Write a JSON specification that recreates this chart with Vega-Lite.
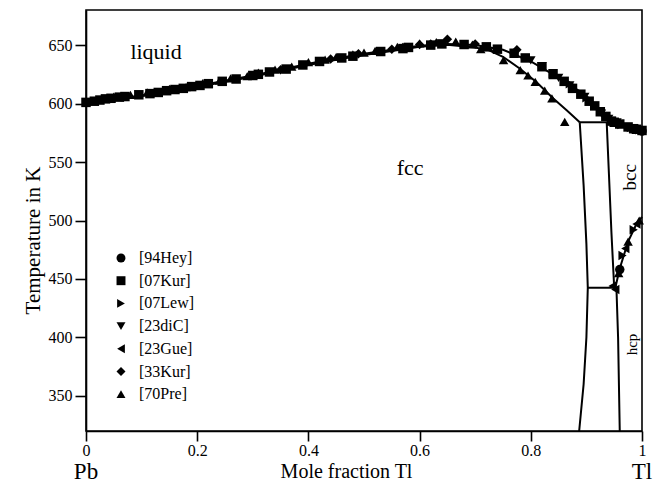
{
  "$schema": "https://vega.github.io/schema/vega-lite/v6.json",
  "width": 556,
  "height": 421,
  "autosize": {"type": "none"},
  "padding": {"left": 86, "top": 10, "right": 24, "bottom": 53},
  "background": "white",
  "config": {
    "font": "Liberation Serif",
    "view": {"stroke": "black", "strokeWidth": 1.6},
    "axis": {
      "grid": false,
      "domainColor": "black",
      "domainWidth": 1.6,
      "tickColor": "black",
      "tickWidth": 1.6,
      "labelColor": "black",
      "titleColor": "black",
      "labelFont": "Liberation Serif",
      "titleFont": "Liberation Serif",
      "labelFontSize": 16,
      "titleFontSize": 21,
      "titleFontWeight": "normal",
      "labelFlush": false
    }
  },
  "datasets": {
    "curves": [
      {"curve": "liquidus", "i": 0, "x": 0, "T": 600.6},
      {"curve": "liquidus", "i": 1, "x": 0.05, "T": 603.6},
      {"curve": "liquidus", "i": 2, "x": 0.1, "T": 607},
      {"curve": "liquidus", "i": 3, "x": 0.15, "T": 611},
      {"curve": "liquidus", "i": 4, "x": 0.2, "T": 615},
      {"curve": "liquidus", "i": 5, "x": 0.25, "T": 619.5},
      {"curve": "liquidus", "i": 6, "x": 0.3, "T": 624},
      {"curve": "liquidus", "i": 7, "x": 0.35, "T": 629},
      {"curve": "liquidus", "i": 8, "x": 0.4, "T": 634},
      {"curve": "liquidus", "i": 9, "x": 0.45, "T": 638.5},
      {"curve": "liquidus", "i": 10, "x": 0.5, "T": 642.5},
      {"curve": "liquidus", "i": 11, "x": 0.55, "T": 646},
      {"curve": "liquidus", "i": 12, "x": 0.6, "T": 649.5},
      {"curve": "liquidus", "i": 13, "x": 0.65, "T": 651},
      {"curve": "liquidus", "i": 14, "x": 0.7, "T": 650},
      {"curve": "liquidus", "i": 15, "x": 0.75, "T": 646},
      {"curve": "liquidus", "i": 16, "x": 0.8, "T": 636},
      {"curve": "liquidus", "i": 17, "x": 0.84, "T": 625},
      {"curve": "liquidus", "i": 18, "x": 0.86, "T": 619.5},
      {"curve": "liquidus", "i": 19, "x": 0.88, "T": 612},
      {"curve": "liquidus", "i": 20, "x": 0.9, "T": 604.5},
      {"curve": "liquidus", "i": 21, "x": 0.915, "T": 598},
      {"curve": "liquidus", "i": 22, "x": 0.93, "T": 590},
      {"curve": "liquidus", "i": 23, "x": 0.942, "T": 585.5},
      {"curve": "liquidus", "i": 24, "x": 0.96, "T": 582},
      {"curve": "liquidus", "i": 25, "x": 0.98, "T": 579},
      {"curve": "liquidus", "i": 26, "x": 1, "T": 576.5},
      {"curve": "solidus", "i": 0, "x": 0, "T": 600.6},
      {"curve": "solidus", "i": 1, "x": 0.05, "T": 603.2},
      {"curve": "solidus", "i": 2, "x": 0.1, "T": 606.4},
      {"curve": "solidus", "i": 3, "x": 0.15, "T": 610.3},
      {"curve": "solidus", "i": 4, "x": 0.2, "T": 614.2},
      {"curve": "solidus", "i": 5, "x": 0.25, "T": 618.6},
      {"curve": "solidus", "i": 6, "x": 0.3, "T": 623},
      {"curve": "solidus", "i": 7, "x": 0.35, "T": 628},
      {"curve": "solidus", "i": 8, "x": 0.4, "T": 633},
      {"curve": "solidus", "i": 9, "x": 0.45, "T": 637.5},
      {"curve": "solidus", "i": 10, "x": 0.5, "T": 641.5},
      {"curve": "solidus", "i": 11, "x": 0.55, "T": 645},
      {"curve": "solidus", "i": 12, "x": 0.6, "T": 648.5},
      {"curve": "solidus", "i": 13, "x": 0.65, "T": 650.3},
      {"curve": "solidus", "i": 14, "x": 0.7, "T": 648},
      {"curve": "solidus", "i": 15, "x": 0.725, "T": 645.5},
      {"curve": "solidus", "i": 16, "x": 0.75, "T": 640},
      {"curve": "solidus", "i": 17, "x": 0.78, "T": 630},
      {"curve": "solidus", "i": 18, "x": 0.81, "T": 618.5},
      {"curve": "solidus", "i": 19, "x": 0.84, "T": 604.5},
      {"curve": "solidus", "i": 20, "x": 0.865, "T": 594},
      {"curve": "solidus", "i": 21, "x": 0.888, "T": 584},
      {"curve": "peritectic", "i": 0, "x": 0.888, "T": 584},
      {"curve": "peritectic", "i": 1, "x": 0.942, "T": 584},
      {"curve": "fccsolvus", "i": 0, "x": 0.888, "T": 584},
      {"curve": "fccsolvus", "i": 1, "x": 0.895, "T": 530},
      {"curve": "fccsolvus", "i": 2, "x": 0.9, "T": 480},
      {"curve": "fccsolvus", "i": 3, "x": 0.9025, "T": 442.5},
      {"curve": "fccsolvus", "i": 4, "x": 0.9, "T": 400},
      {"curve": "fccsolvus", "i": 5, "x": 0.895, "T": 360},
      {"curve": "fccsolvus", "i": 6, "x": 0.887, "T": 320},
      {"curve": "bccsolvus", "i": 0, "x": 0.9365, "T": 584},
      {"curve": "bccsolvus", "i": 1, "x": 0.9405, "T": 540},
      {"curve": "bccsolvus", "i": 2, "x": 0.945, "T": 490},
      {"curve": "bccsolvus", "i": 3, "x": 0.95, "T": 442.5},
      {"curve": "eutectoid", "i": 0, "x": 0.9025, "T": 442.5},
      {"curve": "eutectoid", "i": 1, "x": 0.952, "T": 442.5},
      {"curve": "hcpsolvus", "i": 0, "x": 0.954, "T": 442.5},
      {"curve": "hcpsolvus", "i": 1, "x": 0.957, "T": 400},
      {"curve": "hcpsolvus", "i": 2, "x": 0.96, "T": 320},
      {"curve": "hcpbcc", "i": 0, "x": 0.952, "T": 442.5},
      {"curve": "hcpbcc", "i": 1, "x": 0.96, "T": 459},
      {"curve": "hcpbcc", "i": 2, "x": 0.975, "T": 482},
      {"curve": "hcpbcc", "i": 3, "x": 0.99, "T": 497},
      {"curve": "hcpbcc", "i": 4, "x": 1, "T": 503}
    ],
    "points": [
      {"source": "[07Kur]", "x": 0, "T": 601},
      {"source": "[07Kur]", "x": 0.015, "T": 602},
      {"source": "[07Kur]", "x": 0.025, "T": 603},
      {"source": "[07Kur]", "x": 0.035, "T": 604},
      {"source": "[07Kur]", "x": 0.045, "T": 604.5},
      {"source": "[07Kur]", "x": 0.06, "T": 605.5},
      {"source": "[07Kur]", "x": 0.07, "T": 606},
      {"source": "[07Kur]", "x": 0.095, "T": 607.5},
      {"source": "[07Kur]", "x": 0.115, "T": 608.5},
      {"source": "[07Kur]", "x": 0.13, "T": 609.5},
      {"source": "[07Kur]", "x": 0.145, "T": 611},
      {"source": "[07Kur]", "x": 0.16, "T": 612},
      {"source": "[07Kur]", "x": 0.175, "T": 613},
      {"source": "[07Kur]", "x": 0.19, "T": 614.5},
      {"source": "[07Kur]", "x": 0.205, "T": 615.5},
      {"source": "[07Kur]", "x": 0.22, "T": 617},
      {"source": "[07Kur]", "x": 0.245, "T": 619},
      {"source": "[07Kur]", "x": 0.27, "T": 621},
      {"source": "[07Kur]", "x": 0.3, "T": 624},
      {"source": "[07Kur]", "x": 0.31, "T": 625},
      {"source": "[07Kur]", "x": 0.33, "T": 627},
      {"source": "[07Kur]", "x": 0.36, "T": 629.5},
      {"source": "[07Kur]", "x": 0.39, "T": 633},
      {"source": "[07Kur]", "x": 0.42, "T": 636},
      {"source": "[07Kur]", "x": 0.46, "T": 639},
      {"source": "[07Kur]", "x": 0.48, "T": 640.5},
      {"source": "[07Kur]", "x": 0.53, "T": 644.5},
      {"source": "[07Kur]", "x": 0.57, "T": 647},
      {"source": "[07Kur]", "x": 0.58, "T": 648},
      {"source": "[07Kur]", "x": 0.62, "T": 650},
      {"source": "[07Kur]", "x": 0.64, "T": 651},
      {"source": "[07Kur]", "x": 0.68, "T": 650.5},
      {"source": "[07Kur]", "x": 0.72, "T": 648.5},
      {"source": "[07Kur]", "x": 0.74, "T": 646.5},
      {"source": "[07Kur]", "x": 0.77, "T": 643},
      {"source": "[07Kur]", "x": 0.79, "T": 639},
      {"source": "[07Kur]", "x": 0.82, "T": 631.5},
      {"source": "[07Kur]", "x": 0.84, "T": 625.5},
      {"source": "[07Kur]", "x": 0.86, "T": 619},
      {"source": "[07Kur]", "x": 0.875, "T": 613},
      {"source": "[07Kur]", "x": 0.89, "T": 608},
      {"source": "[07Kur]", "x": 0.905, "T": 602},
      {"source": "[07Kur]", "x": 0.915, "T": 598},
      {"source": "[07Kur]", "x": 0.925, "T": 593},
      {"source": "[07Kur]", "x": 0.935, "T": 589},
      {"source": "[07Kur]", "x": 0.945, "T": 585},
      {"source": "[07Kur]", "x": 0.95, "T": 584},
      {"source": "[07Kur]", "x": 0.96, "T": 582.5},
      {"source": "[07Kur]", "x": 0.975, "T": 580},
      {"source": "[07Kur]", "x": 0.985, "T": 578.5},
      {"source": "[07Kur]", "x": 0.99, "T": 578},
      {"source": "[07Kur]", "x": 1, "T": 577},
      {"source": "[70Pre]", "x": 0.05, "T": 606},
      {"source": "[70Pre]", "x": 0.08, "T": 607.5},
      {"source": "[70Pre]", "x": 0.11, "T": 609.5},
      {"source": "[70Pre]", "x": 0.15, "T": 612.5},
      {"source": "[70Pre]", "x": 0.18, "T": 614},
      {"source": "[70Pre]", "x": 0.21, "T": 617.5},
      {"source": "[70Pre]", "x": 0.24, "T": 619.5},
      {"source": "[70Pre]", "x": 0.26, "T": 621.5},
      {"source": "[70Pre]", "x": 0.29, "T": 623.5},
      {"source": "[70Pre]", "x": 0.31, "T": 626.5},
      {"source": "[70Pre]", "x": 0.34, "T": 629},
      {"source": "[70Pre]", "x": 0.37, "T": 631.5},
      {"source": "[70Pre]", "x": 0.4, "T": 635.5},
      {"source": "[70Pre]", "x": 0.43, "T": 637.5},
      {"source": "[70Pre]", "x": 0.45, "T": 640},
      {"source": "[70Pre]", "x": 0.48, "T": 642},
      {"source": "[70Pre]", "x": 0.5, "T": 643.5},
      {"source": "[70Pre]", "x": 0.52, "T": 645},
      {"source": "[70Pre]", "x": 0.56, "T": 648.5},
      {"source": "[70Pre]", "x": 0.6, "T": 651.5},
      {"source": "[70Pre]", "x": 0.63, "T": 652.5},
      {"source": "[70Pre]", "x": 0.665, "T": 653},
      {"source": "[70Pre]", "x": 0.695, "T": 650.5},
      {"source": "[70Pre]", "x": 0.71, "T": 646.5},
      {"source": "[70Pre]", "x": 0.724, "T": 648.5},
      {"source": "[70Pre]", "x": 0.751, "T": 637.2},
      {"source": "[70Pre]", "x": 0.781, "T": 628.6},
      {"source": "[70Pre]", "x": 0.795, "T": 624},
      {"source": "[70Pre]", "x": 0.808, "T": 618.6},
      {"source": "[70Pre]", "x": 0.825, "T": 611},
      {"source": "[70Pre]", "x": 0.838, "T": 604.4},
      {"source": "[70Pre]", "x": 0.861, "T": 584.4},
      {"source": "[70Pre]", "x": 0.84, "T": 624.3},
      {"source": "[70Pre]", "x": 0.877, "T": 613},
      {"source": "[70Pre]", "x": 0.958, "T": 455},
      {"source": "[70Pre]", "x": 0.975, "T": 482},
      {"source": "[70Pre]", "x": 0.995, "T": 500},
      {"source": "[33Kur]", "x": 0.35, "T": 629},
      {"source": "[33Kur]", "x": 0.44, "T": 638},
      {"source": "[33Kur]", "x": 0.49, "T": 642.5},
      {"source": "[33Kur]", "x": 0.55, "T": 646.5},
      {"source": "[33Kur]", "x": 0.57, "T": 648},
      {"source": "[33Kur]", "x": 0.6, "T": 650.5},
      {"source": "[33Kur]", "x": 0.62, "T": 651},
      {"source": "[33Kur]", "x": 0.65, "T": 655},
      {"source": "[33Kur]", "x": 0.7, "T": 651},
      {"source": "[33Kur]", "x": 0.775, "T": 646},
      {"source": "[07Lew]", "x": 0.87, "T": 617},
      {"source": "[07Lew]", "x": 0.89, "T": 609},
      {"source": "[07Lew]", "x": 0.9, "T": 605},
      {"source": "[07Lew]", "x": 0.915, "T": 598.7},
      {"source": "[07Lew]", "x": 0.935, "T": 589},
      {"source": "[07Lew]", "x": 0.963, "T": 582},
      {"source": "[07Lew]", "x": 0.98, "T": 579.5},
      {"source": "[07Lew]", "x": 0.995, "T": 577.5},
      {"source": "[07Lew]", "x": 0.965, "T": 470},
      {"source": "[07Lew]", "x": 0.985, "T": 492},
      {"source": "[23diC]", "x": 0.8, "T": 637},
      {"source": "[23diC]", "x": 0.82, "T": 632},
      {"source": "[23diC]", "x": 0.85, "T": 622},
      {"source": "[23diC]", "x": 0.87, "T": 615.5},
      {"source": "[23diC]", "x": 0.897, "T": 605.8},
      {"source": "[23diC]", "x": 0.927, "T": 591.5},
      {"source": "[23diC]", "x": 0.94, "T": 587},
      {"source": "[23diC]", "x": 0.955, "T": 584},
      {"source": "[23Gue]", "x": 0.947, "T": 444},
      {"source": "[23Gue]", "x": 0.952, "T": 441},
      {"source": "[23Gue]", "x": 0.97, "T": 476},
      {"source": "[23Gue]", "x": 0.99, "T": 497},
      {"source": "[94Hey]", "x": 1, "T": 576.5},
      {"source": "[94Hey]", "x": 0.96, "T": 458}
    ]
  },
  "layer": [
    {
      "data": {"name": "curves"},
      "mark": {"type": "line", "color": "black", "strokeWidth": 2},
      "encoding": {
        "x": {
          "field": "x", "type": "quantitative",
          "scale": {"domain": [0, 1], "nice": false, "zero": false},
          "axis": {
            "title": "Mole fraction Tl",
            "values": [0, 0.2, 0.4, 0.6, 0.8, 1],
            "format": "~g",
            "tickSize": 10,
            "labelPadding": 1,
            "titleFontSize": 20,
            "titleX": 260,
            "titleY": 46,
            "titleAlign": "center",
            "titleAnchor": null,
            "titleBaseline": "alphabetic"
          }
        },
        "y": {
          "field": "T", "type": "quantitative",
          "scale": {"domain": [320, 680], "nice": false, "zero": false},
          "axis": {
            "title": "Temperature in K",
            "values": [350, 400, 450, 500, 550, 600, 650],
            "tickSize": 11,
            "labelPadding": 3,
            "titleX": -47,
            "titleY": 230,
            "titleAngle": 270,
            "titleAlign": "center",
            "titleAnchor": null,
            "titleBaseline": "alphabetic"
          }
        },
        "detail": {"field": "curve", "type": "nominal"},
        "order": {"field": "i", "type": "quantitative"}
      }
    },
    {
      "data": {"name": "points"},
      "mark": {"type": "point", "filled": true, "color": "black", "opacity": 1, "size": 90},
      "encoding": {
        "x": {"field": "x", "type": "quantitative"},
        "y": {"field": "T", "type": "quantitative"},
        "shape": {
          "field": "source", "type": "nominal",
          "scale": {
            "domain": ["[94Hey]", "[07Kur]", "[07Lew]", "[23diC]", "[23Gue]", "[33Kur]", "[70Pre]"],
            "range": ["circle", "square", "triangle-right", "triangle-down", "triangle-left", "diamond", "triangle-up"]
          },
          "legend": {
            "title": null,
            "orient": "none",
            "legendX": 27,
            "legendY": 240,
            "padding": 0,
            "labelFont": "Liberation Serif",
            "labelFontSize": 16,
            "labelColor": "black",
            "labelOffset": 10,
            "rowPadding": 6.7,
            "symbolSize": 80,
            "symbolFillColor": "black",
            "symbolStrokeColor": "black",
            "symbolOpacity": 1
          }
        }
      }
    },
    {
      "data": {"values": [{"label": "liquid", "x": 0.126, "T": 644}, {"label": "fcc", "x": 0.583, "T": 545}]},
      "mark": {"type": "text", "fontSize": 22, "font": "Liberation Serif", "color": "black", "align": "center", "baseline": "middle"},
      "encoding": {
        "x": {"field": "x", "type": "quantitative"},
        "y": {"field": "T", "type": "quantitative"},
        "text": {"field": "label"}
      }
    },
    {
      "data": {"values": [{"label": "bcc", "x": 0.978, "T": 537}]},
      "mark": {"type": "text", "fontSize": 19, "font": "Liberation Serif", "color": "black", "align": "center", "baseline": "middle", "angle": 270},
      "encoding": {
        "x": {"field": "x", "type": "quantitative"},
        "y": {"field": "T", "type": "quantitative"},
        "text": {"field": "label"}
      }
    },
    {
      "data": {"values": [{"label": "hcp", "x": 0.982, "T": 394}]},
      "mark": {"type": "text", "fontSize": 15, "font": "Liberation Serif", "color": "black", "align": "center", "baseline": "middle", "angle": 270},
      "encoding": {
        "x": {"field": "x", "type": "quantitative"},
        "y": {"field": "T", "type": "quantitative"},
        "text": {"field": "label"}
      }
    },
    {
      "data": {"values": [{"label": "Pb", "x": 0, "T": 279}, {"label": "Tl", "x": 1, "T": 279}]},
      "mark": {"type": "text", "fontSize": 23, "font": "Liberation Serif", "color": "black", "align": "center", "baseline": "alphabetic"},
      "encoding": {
        "x": {"field": "x", "type": "quantitative"},
        "y": {"field": "T", "type": "quantitative"},
        "text": {"field": "label"}
      }
    }
  ]
}
